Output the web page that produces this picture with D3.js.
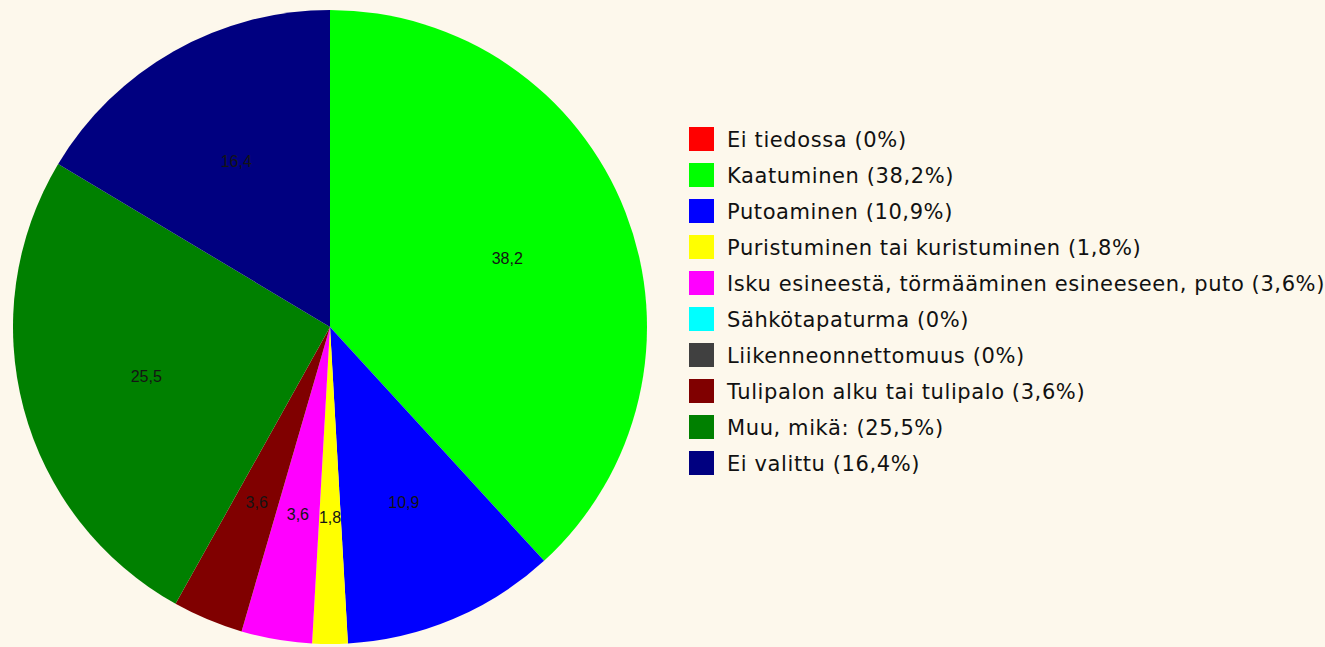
<!DOCTYPE html>
<html>
<head>
<meta charset="utf-8">
<script src="https://cdn.jsdelivr.net/npm/d3@7"></script>
<style>
  html, body { margin: 0; padding: 0; background: #fdf8ec; }
  svg { display: block; }
</style>
</head>
<body>
<div id="chart"></div>
<script>
// luokat, osuudet (%) ja värit
var categories = [
  "Ei tiedossa",
  "Kaatuminen",
  "Putoaminen",
  "Puristuminen tai kuristuminen",
  "Isku esineestä, törmääminen esineeseen, puto",
  "Sähkötapaturma",
  "Liikenneonnettomuus",
  "Tulipalon alku tai tulipalo",
  "Muu, mikä:",
  "Ei valittu"
];
var values = [0, 38.2, 10.9, 1.8, 3.6, 0, 0, 3.6, 25.5, 16.4];
var colors = ["#ff0000", "#00ff00", "#0000ff", "#ffff00", "#ff00ff",
              "#00ffff", "#404040", "#800000", "#008000", "#000080"];

var data = categories.map(function(c, i) {
  return { name: c, value: values[i], color: colors[i] };
});

var width = 1325, height = 647;
var radius = 317;
var cx = 330, cy = 327;

function fmt(v) { return String(v).replace(".", ","); }

var svg = d3.select("#chart")
  .append("svg")
  .attr("width", width)
  .attr("height", height);

var g = svg.append("g")
  .attr("transform", "translate(" + cx + "," + cy + ")");

var pie = d3.pie()
  .sort(null)
  .value(function(d) { return d.value; });

var arc = d3.arc().innerRadius(0).outerRadius(radius);
var labelArc = d3.arc().innerRadius(radius * 0.6).outerRadius(radius * 0.6);

var arcs = pie(data);

// siivut
g.selectAll("path.slice")
  .data(arcs)
  .enter().append("path")
  .attr("class", "slice")
  .attr("d", arc)
  .attr("fill", function(d) { return d.data.color; });

// siivujen arvot
g.selectAll("text.label")
  .data(arcs.filter(function(d) { return d.data.value > 0; }))
  .enter().append("text")
  .attr("class", "label")
  .attr("transform", function(d) { return "translate(" + labelArc.centroid(d) + ")"; })
  .attr("dy", "0.35em")
  .attr("text-anchor", "middle")
  .attr("font-family", "Arial, 'Liberation Sans', sans-serif")
  .attr("font-size", "16px")
  .attr("fill", "#141414")
  .text(function(d) { return fmt(d.data.value); });

// selite
var legend = svg.append("g")
  .attr("transform", "translate(689,139)");

var row = legend.selectAll("g.row")
  .data(data)
  .enter().append("g")
  .attr("class", "row")
  .attr("transform", function(d, i) { return "translate(0," + (i * 36) + ")"; });

row.append("rect")
  .attr("x", 0)
  .attr("y", -12)
  .attr("width", 25)
  .attr("height", 24)
  .attr("fill", function(d) { return d.color; });

row.append("text")
  .attr("x", 38)
  .attr("dy", "0.36em")
  .attr("font-family", "'DejaVu Sans', Verdana, sans-serif")
  .attr("font-size", "21px")
  .attr("letter-spacing", "0.6px")
  .attr("fill", "#111")
  .text(function(d) { return d.name + " (" + fmt(d.value) + "%)"; });
</script>
</body>
</html>
